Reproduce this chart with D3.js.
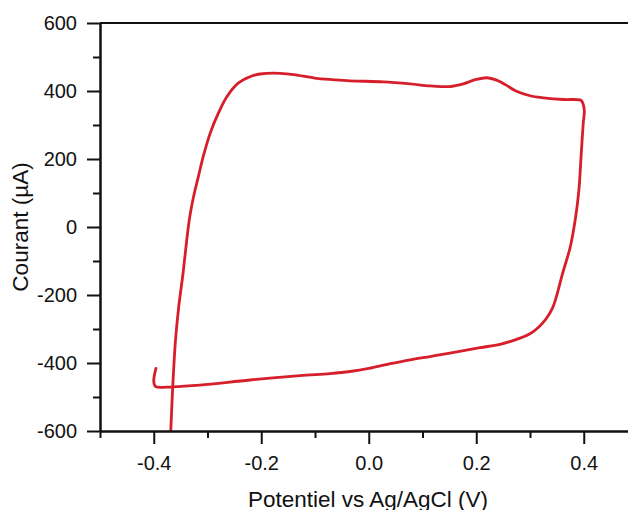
<!DOCTYPE html>
<html>
<head>
<meta charset="utf-8">
<script src="https://cdn.jsdelivr.net/npm/d3@7"></script>
<style>
  html, body { margin: 0; padding: 0; background: #fff; }
  svg { display: block; font-family: "Liberation Sans", Arial, sans-serif; }
</style>
</head>
<body>
<svg id="chart" width="628" height="510"></svg>
<script>
// ---- data ----
const potential = [
  -0.396, -0.400, -0.399, -0.396,
  -0.366, -0.314, -0.221, -0.128, -0.072, -0.035, 0.000, 0.040, 0.080, 0.114, 0.151, 0.207, 0.244, 0.2815, 0.300, 0.316, 0.330, 0.342, 0.350,
  0.360, 0.375, 0.385, 0.391, 0.395, 0.399, 0.401, 0.396,
  0.393, 0.362, 0.325, 0.300, 0.275, 0.255, 0.238, 0.220, 0.200, 0.176, 0.151, 0.114, 0.077, 0.027, -0.035, -0.072, -0.097, -0.134, -0.165, -0.202, -0.221,
  -0.243, -0.264, -0.280, -0.295, -0.308, -0.317, -0.326, -0.333, -0.3386, -0.3455, -0.3535, -0.3595, -0.3647, -0.3684, -0.3697
];
const current = [
  -416, -450, -463, -470,
  -470, -465, -450, -437, -431, -425, -416, -402, -390, -381, -371, -355, -345, -327, -314, -295, -270, -238, -200,
  -140, -58, 30, 109, 207, 305, 344, 371,
  374, 375, 380, 386, 399, 418, 432, 439, 434, 421, 413, 415, 421, 427, 430, 434, 437, 447, 452, 450, 442,
  423, 383, 334, 276, 207, 148, 89, 30, -38, -136, -234, -332, -470, -602, -641
];
const xMajorTicks = [-0.4, -0.2, 0.0, 0.2, 0.4];
const xMinorTicks = [-0.5, -0.3, -0.1, 0.1, 0.3, 0.5];
const yMajorTicks = [-600, -400, -200, 0, 200, 400, 600];
const yMinorTicks = [-500, -300, -100, 100, 300, 500];
const xDomain = [-0.5, 0.5];
const yDomain = [-600, 600];
const xTitle = "Potentiel vs Ag/AgCl (V)";
const yTitle = "Courant (µA)";

// ---- layout ----
const margin = { left: 100, top: 23 };
const plotW = 537.5, plotH = 408;
const svg = d3.select("#chart");
const g = svg.append("g").attr("transform", `translate(${margin.left},${margin.top})`);

const x = d3.scaleLinear().domain(xDomain).range([0, plotW]);
const y = d3.scaleLinear().domain(yDomain).range([plotH, 0]);

const axisColor = "#111";
const fmtX = d => d.toFixed(1).replace("\u2212", "-");
const fmtY = d => String(d);

// clip
svg.append("defs").append("clipPath").attr("id", "clip")
  .append("rect").attr("x", 0).attr("y", 0).attr("width", plotW).attr("height", plotH);

// curve
const pts = potential.map((v, i) => [v, current[i]]);
g.append("path")
  .datum(pts)
  .attr("clip-path", "url(#clip)")
  .attr("fill", "none")
  .attr("stroke", "#d61f2a")
  .attr("stroke-width", 2.8)
  .attr("stroke-linejoin", "round")
  .attr("stroke-linecap", "round")
  .attr("d", d3.line().x(d => x(d[0])).y(d => y(d[1])).curve(d3.curveCatmullRom.alpha(0.5)));

// top frame
g.append("line")
  .attr("x1", x(xDomain[0])).attr("x2", x(xDomain[1]))
  .attr("y1", 0).attr("y2", 0)
  .attr("stroke", axisColor).attr("stroke-width", 2);

function styleAxis(sel) {
  sel.selectAll("path.domain").attr("stroke", axisColor).attr("stroke-width", 2);
  sel.selectAll(".tick line").attr("stroke", axisColor).attr("stroke-width", 2);
  sel.selectAll(".tick text").attr("fill", "#111").style("font-size", "20px")
     .style("font-family", '"Liberation Sans", Arial, sans-serif');
}

// x axis
const gxMinor = g.append("g").attr("transform", `translate(0,${plotH})`)
  .call(d3.axisBottom(x).tickValues(xMinorTicks).tickSize(7).tickSizeOuter(0).tickFormat(""));
styleAxis(gxMinor);
const gx = g.append("g").attr("transform", `translate(0,${plotH})`)
  .call(d3.axisBottom(x).tickValues(xMajorTicks).tickSize(13).tickSizeOuter(0).tickPadding(12).tickFormat(fmtX));
styleAxis(gx);

// y axis
const gyMinor = g.append("g")
  .call(d3.axisLeft(y).tickValues(yMinorTicks).tickSize(7).tickSizeOuter(0).tickFormat(""));
styleAxis(gyMinor);
const gy = g.append("g")
  .call(d3.axisLeft(y).tickValues(yMajorTicks).tickSize(13).tickSizeOuter(0).tickPadding(10).tickFormat(fmtY));
styleAxis(gy);

// titles
svg.append("text")
  .attr("x", 368).attr("y", 507)
  .attr("text-anchor", "middle")
  .attr("fill", "#111")
  .style("font-size", "22.5px")
  .text(xTitle);

svg.append("text")
  .attr("transform", "translate(28,227) rotate(-90)")
  .attr("text-anchor", "middle")
  .attr("fill", "#111")
  .style("font-size", "22.5px")
  .text(yTitle);
</script>
</body>
</html>
